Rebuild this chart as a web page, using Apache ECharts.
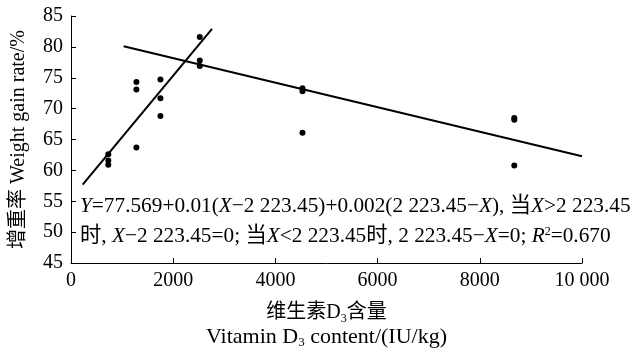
<!DOCTYPE html>
<html>
<head>
<meta charset="utf-8">
<script src="https://cdn.jsdelivr.net/npm/echarts@6/dist/echarts.min.js"></script>
<style>
html,body{margin:0;padding:0;background:#fff;}
#c{width:634px;height:354px;}
</style>
</head>
<body>
<div id="c"></div>
<script>
// Observed points: [vitamin D3 content, weight gain rate]
const pointsX = [730, 730, 730, 1280, 1280, 1280, 1750, 1750, 1750, 2520, 2520, 2520, 4530, 4530, 4530, 8675, 8675, 8675];
const pointsY = [62.6, 61.6, 60.9, 74.3, 73.1, 63.7, 74.7, 71.7, 68.8, 81.6, 77.8, 76.9, 73.3, 72.8, 66.1, 68.5, 68.2, 60.8];
// Fitted segments (endpoints)
const line1X = [228, 2760];
const line1Y = [57.7, 82.9];
const line2X = [1030, 10000];
const line2Y = [80.1, 62.3];
const xTicks = [0, 2000, 4000, 6000, 8000, 10000];
const xTickLabels = ['0', '2000', '4000', '6000', '8000', '10 000'];
const yTicks = [45, 50, 55, 60, 65, 70, 75, 80, 85];

const serif = '"Liberation Serif", "Times New Roman", serif';
const cjkSerif = '"Liberation Serif", "Noto Sans CJK SC", serif';
const chart = echarts.init(document.getElementById('c'));
const fs = 21.3;
const rich = {
  n: {fontFamily: cjkSerif, fontSize: fs, color: '#000'},
  i: {fontFamily: serif, fontSize: fs, fontStyle: 'italic', color: '#000'},
  sup: {fontFamily: serif, fontSize: 12, color: '#000', verticalAlign: 'top', padding: [0, 0, 9, 0]}
};
chart.setOption({
  animation: false,
  backgroundColor: '#fff',
  grid: {left: 71, right: 52, top: 16, bottom: 85},
  xAxis: {
    type: 'value', min: 0, max: 10000, interval: 2000,
    name: '{c|维生素D}{s|3}{c|含量}\n{a|Vitamin D}{s2|3}{a| content/(IU/kg)}',
    nameLocation: 'middle', nameGap: 38,
    nameTextStyle: {
      lineHeight: 24,
      rich: {
        c: {fontFamily: cjkSerif, fontSize: 20, color: '#000', lineHeight: 24},
        a: {fontFamily: serif, fontSize: 22, color: '#000', lineHeight: 24},
        s: {fontFamily: serif, fontSize: 12, color: '#000', verticalAlign: 'bottom', padding: [8, 0, 0, 0], lineHeight: 24},
        s2: {fontFamily: serif, fontSize: 13, color: '#000', verticalAlign: 'bottom', padding: [8, 0, 0, 0], lineHeight: 24}
      }
    },
    axisLine: {lineStyle: {color: '#000', width: 1}},
    axisTick: {inside: true, length: 5, lineStyle: {color: '#000'}},
    axisLabel: {
      fontFamily: serif, fontSize: 20, color: '#000', margin: 8,
      formatter: v => xTickLabels[xTicks.indexOf(v)]
    },
    splitLine: {show: false}
  },
  yAxis: {
    type: 'value', min: 45, max: 85, interval: 5,
    name: '增重率 Weight gain rate/%',
    nameLocation: 'middle', nameGap: 42, nameRotate: 90,
    nameTextStyle: {fontFamily: cjkSerif, fontSize: 20, color: '#000'},
    axisLine: {show: true, lineStyle: {color: '#000', width: 1}},
    axisTick: {show: true, inside: true, length: 5, lineStyle: {color: '#000'}},
    axisLabel: {
      fontFamily: serif, fontSize: 20, color: '#000', margin: 8,
      formatter: v => yTicks.includes(v) ? String(v) : ''
    },
    splitLine: {show: false}
  },
  series: [
    {
      type: 'scatter', symbol: 'circle', symbolSize: 6,
      itemStyle: {color: '#000', opacity: 1},
      data: pointsX.map((x, k) => [x, pointsY[k]])
    },
    {
      type: 'line', symbol: 'none', lineStyle: {color: '#000', width: 2},
      data: line1X.map((x, k) => [x, line1Y[k]])
    },
    {
      type: 'line', symbol: 'none', lineStyle: {color: '#000', width: 2},
      data: line2X.map((x, k) => [x, line2Y[k]])
    }
  ],
  graphic: [
    {
      type: 'text', left: 80, top: 196,
      style: {
        text: '{i|Y}{n|=77.569+0.01(}{i|X}{n|−2 223.45)+0.002(2 223.45−}{i|X}{n|), 当}{i|X}{n|>2 223.45}',
        rich: rich
      }
    },
    {
      type: 'text', left: 80, top: 226,
      style: {
        text: '{n|时, }{i|X}{n|−2 223.45=0; 当}{i|X}{n|<2 223.45时, 2 223.45−}{i|X}{n|=0; }{i|R}{sup|2}{n|=0.670}',
        rich: rich
      }
    }
  ]
});
</script>
</body>
</html>
